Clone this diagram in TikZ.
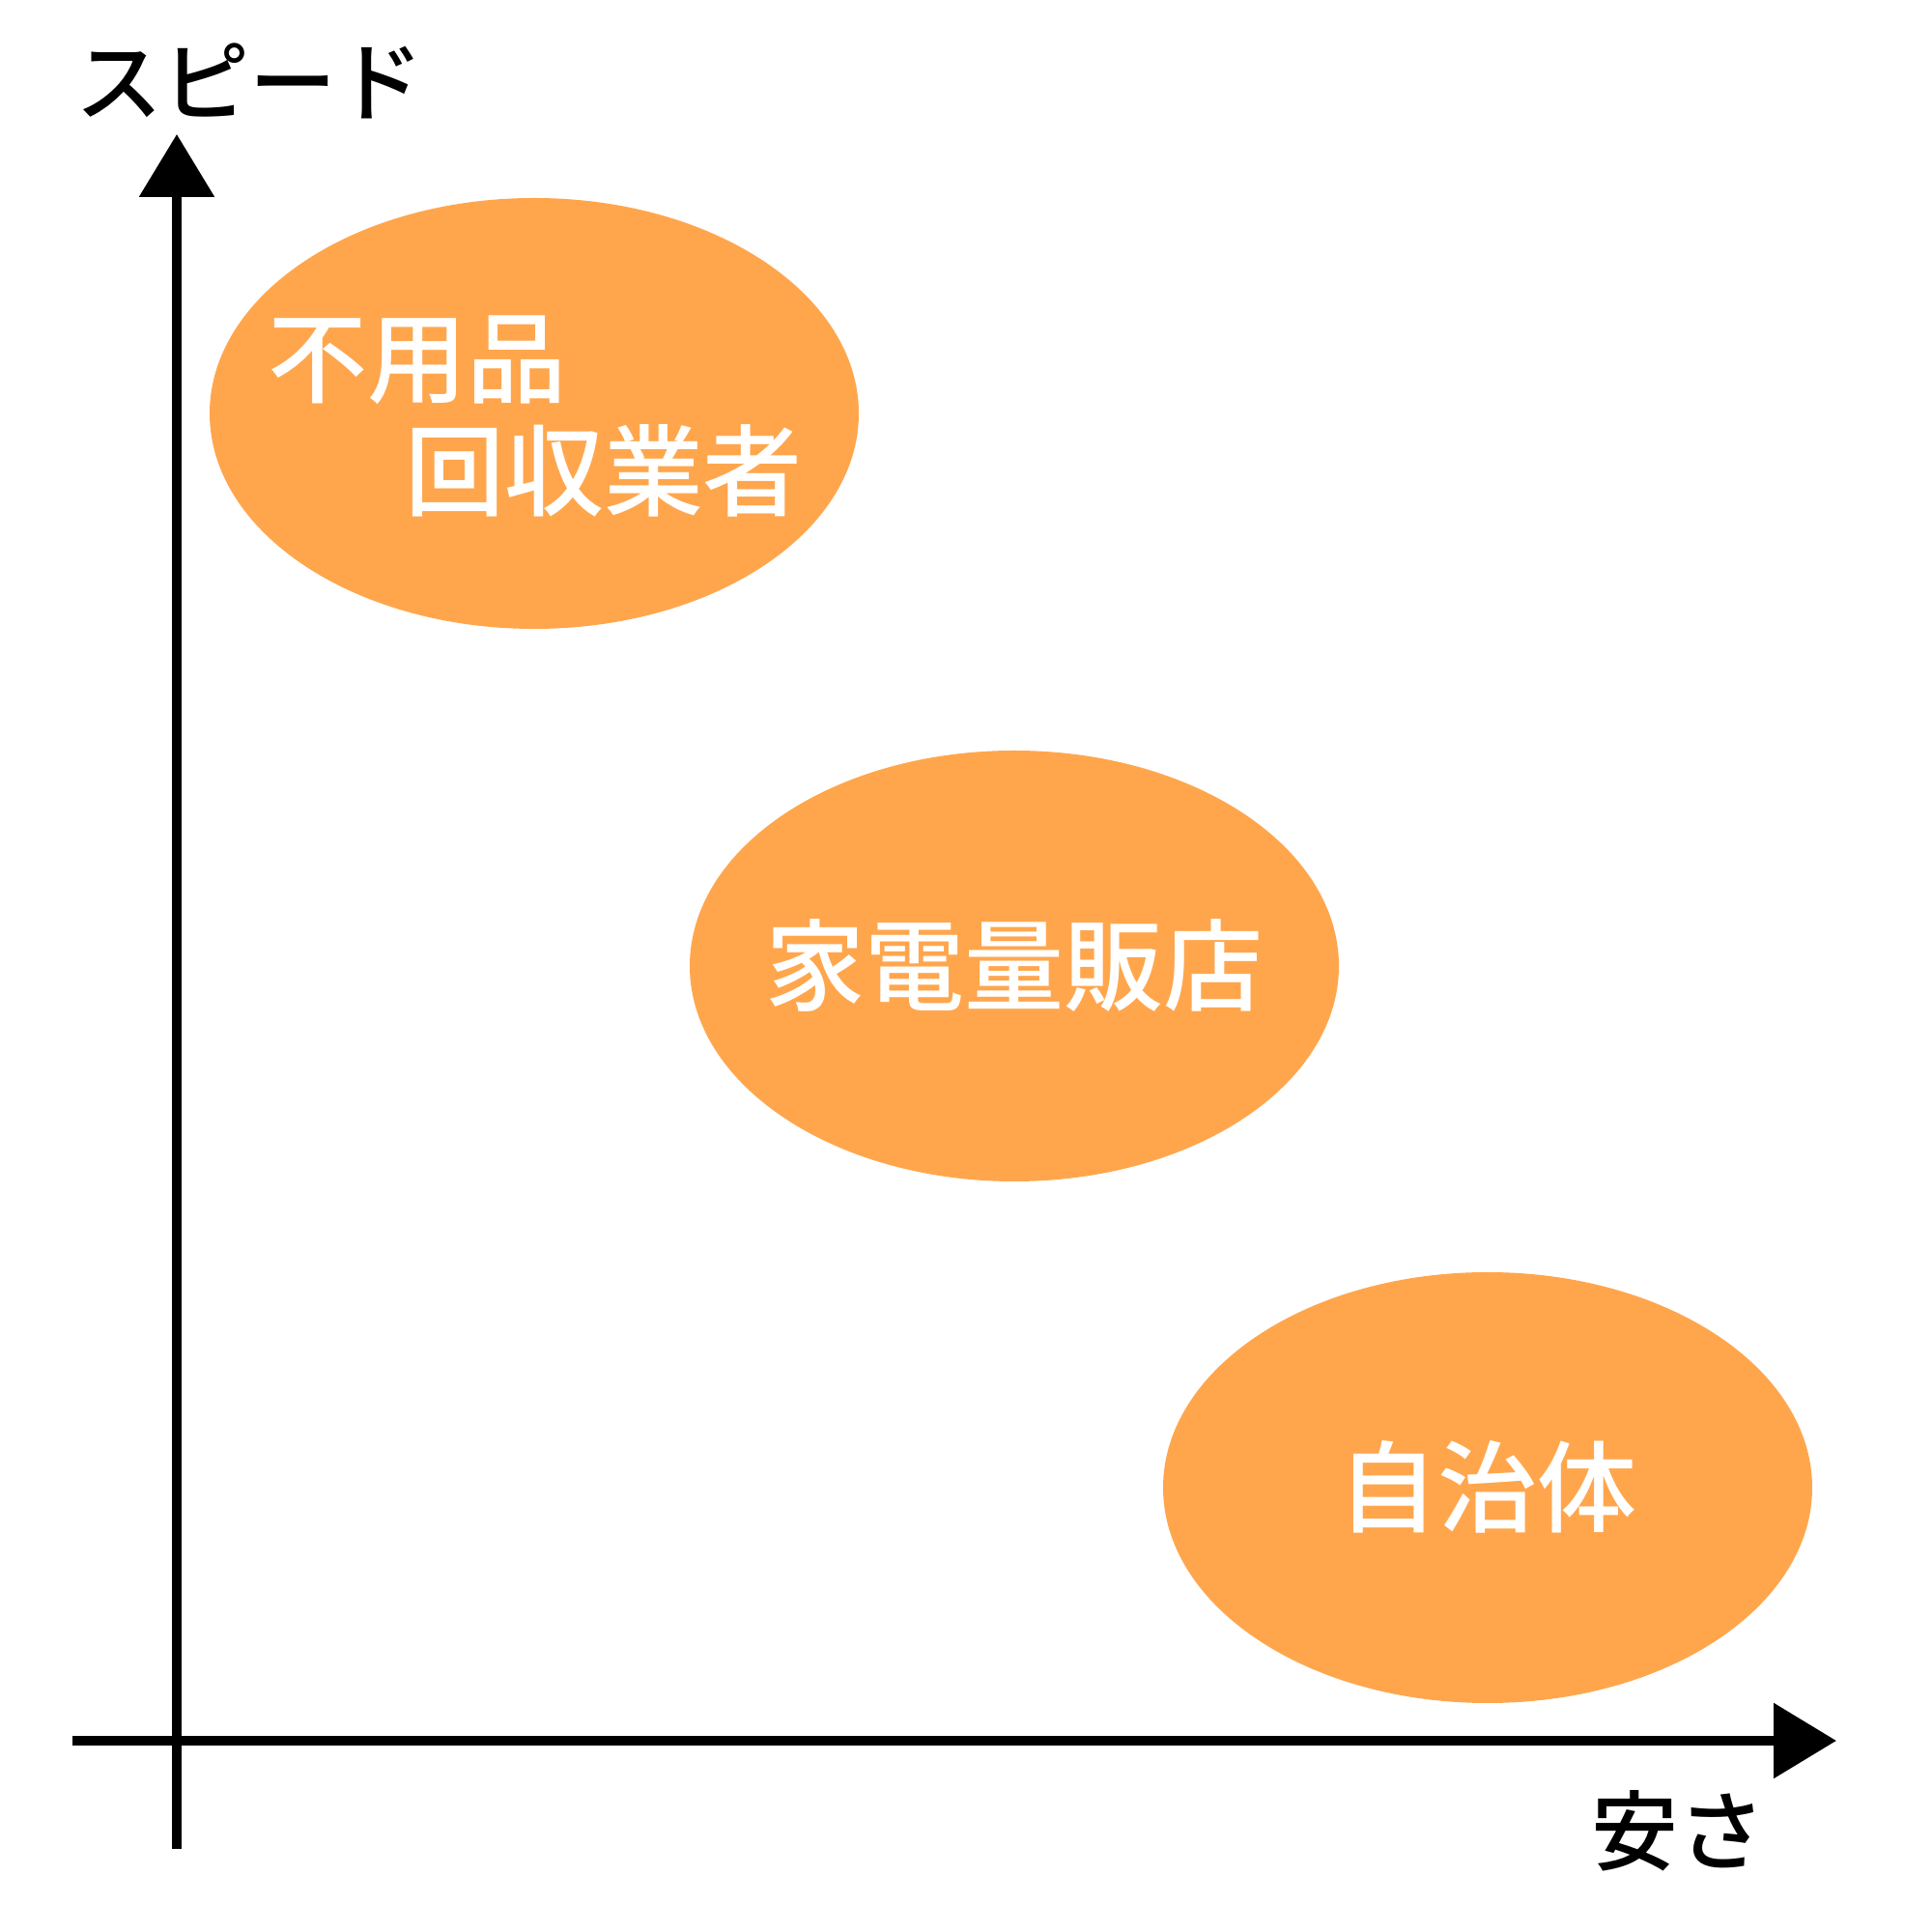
\documentclass[tikz,border=0pt]{standalone}
\usepackage{fontspec}
\IfFontExistsTF{Noto Sans CJK JP Medium}
  {\setmainfont{Noto Sans CJK JP Medium}}
  {\setmainfont{Noto Sans CJK JP}[FakeBold=1]}
\usetikzlibrary{arrows.meta,shapes.geometric}
\definecolor{blobfill}{HTML}{FFA64D}
\tikzset{
  axisline/.style={line width=0.095cm, draw=black, -{Triangle[length=0.65cm,width=0.76cm]}},
  blob/.style={ellipse, fill=blobfill, draw=none, minimum width=6.72cm, minimum height=4.46cm, inner sep=0pt},
  blobtext/.style={text=white, font=\fontsize{29.3pt}{35pt}\selectfont, anchor=base, inner sep=0pt},
  axistext/.style={text=black, font=\fontsize{25.6pt}{30pt}\selectfont, anchor=base, inner sep=0pt}
}
\begin{document}
\begin{tikzpicture}
\useasboundingbox (0,0) rectangle (20,20);
% ellipses
\node[blob] (e1) at (5.53,15.72) {};
\node[blob] (e2) at (10.50,10.00) {};
\node[blob] (e3) at (15.40,4.60) {};
% ellipse labels
\node[blobtext] (t1a) at (4.32,15.90) {不用品};
\node[blobtext] (t1b) at (6.25,14.73) {回収業者};
\node[blobtext] (t2) at (10.50,9.61) {家電量販店};
\node[blobtext] (t3) at (15.40,4.21) {自治体};
% axes
\coordinate (ybot) at (1.83,0.86);
\coordinate (ytop) at (1.83,18.61);
\coordinate (xleft) at (0.75,1.98);
\coordinate (xright) at (19.01,1.98);
\draw[axisline] (ybot) -- (ytop);
\draw[axisline] (xleft) -- (xright);
% axis labels
\node[axistext] (ylab) at (2.585,18.81) {スピード};
\node[axistext] (xlab) at (17.375,0.70) {安さ};
\end{tikzpicture}
\end{document}
